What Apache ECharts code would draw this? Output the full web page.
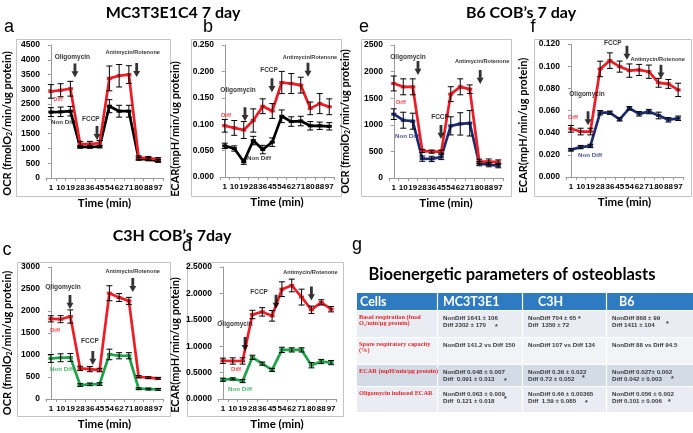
<!DOCTYPE html>
<html>
<head>
<meta charset="utf-8">
<script src="https://cdn.jsdelivr.net/npm/echarts@6.0.0/dist/echarts.min.js"></script>
<style>
html,body{margin:0;padding:0;background:#ffffff;}
#chart{width:693px;height:433px;}
</style>
</head>
<body>
<div id="chart"></div>
<script>
// ------------------------------------------------------------------ data
const timeLabels = ['1','10','19','28','36','45','54','62','71','80','88','97'];

// (a) MC3T3E1C4 OCR
const mcOcrDiff      = [2930, 2970, 3020, 1150, 1150, 1180, 3370, 3460, 3500, 690, 670, 630];
const mcOcrDiffErr   = [230, 220, 250, 90, 90, 90, 420, 380, 300, 60, 60, 60];
const mcOcrNon       = [2230, 2240, 2260, 1050, 1050, 1060, 2430, 2260, 2260, 650, 630, 580];
const mcOcrNonErr    = [150, 160, 160, 40, 40, 40, 220, 200, 200, 50, 50, 50];
// (b) MC3T3E1C4 ECAR
const mcEcarDiff     = [0.097, 0.093, 0.089, 0.107, 0.134, 0.125, 0.179, 0.177, 0.174, 0.130, 0.139, 0.133];
const mcEcarDiffErr  = [0.012, 0.014, 0.016, 0.022, 0.014, 0.014, 0.021, 0.019, 0.015, 0.012, 0.019, 0.015];
const mcEcarNon      = [0.059, 0.054, 0.029, 0.069, 0.052, 0.066, 0.115, 0.105, 0.106, 0.097, 0.097, 0.096];
const mcEcarNonErr   = [0.005, 0.005, 0.005, 0.008, 0.008, 0.008, 0.012, 0.009, 0.009, 0.008, 0.007, 0.007];
// (e) B6 OCR
const b6OcrDiff      = [1777, 1714, 1714, 509, 496, 496, 1576, 1714, 1670, 314, 308, 300];
const b6OcrDiffErr   = [140, 150, 150, 30, 30, 30, 140, 150, 80, 40, 50, 40];
const b6OcrNon       = [1200, 1086, 1068, 364, 358, 396, 980, 1017, 1030, 270, 251, 232];
const b6OcrNonErr    = [100, 150, 150, 50, 50, 50, 170, 210, 240, 40, 40, 40];
// (f) B6 ECAR
const b6EcarDiff     = [0.0435, 0.041, 0.041, 0.0975, 0.105, 0.0996, 0.096, 0.0966, 0.095, 0.085, 0.084, 0.0786];
const b6EcarDiffErr  = [0.003, 0.003, 0.003, 0.007, 0.007, 0.005, 0.006, 0.005, 0.006, 0.004, 0.004, 0.006];
const b6EcarNon      = [0.0246, 0.027, 0.028, 0.058, 0.058, 0.052, 0.062, 0.057, 0.059, 0.0555, 0.0516, 0.053];
const b6EcarNonErr   = [0.0012, 0.0015, 0.0015, 0.002, 0.0015, 0.0015, 0.0015, 0.002, 0.002, 0.003, 0.002, 0.002];
// (c) C3H OCR
const c3hOcrDiff     = [1822, 1814, 1875, 695, 680, 658, 2404, 2306, 2230, 506, 484, 469];
const c3hOcrDiffErr  = [70, 80, 150, 50, 60, 40, 170, 90, 80, 25, 20, 20];
const c3hOcrNon      = [922, 937, 945, 317, 333, 340, 1013, 983, 983, 234, 227, 219];
const c3hOcrNonErr   = [90, 90, 90, 30, 30, 30, 120, 70, 70, 20, 20, 20];
// (d) C3H ECAR
const c3hEcarDiff    = [0.724, 0.72, 0.72, 1.60, 1.65, 1.575, 2.08, 2.15, 1.93, 1.69, 1.83, 1.70];
const c3hEcarDiffErr = [0.05, 0.06, 0.06, 0.08, 0.08, 0.10, 0.14, 0.12, 0.15, 0.07, 0.05, 0.05];
const c3hEcarNon     = [0.365, 0.38, 0.34, 0.79, 0.67, 0.55, 0.93, 0.93, 0.93, 0.64, 0.71, 0.69];
const c3hEcarNonErr  = [0.03, 0.02, 0.03, 0.04, 0.03, 0.03, 0.05, 0.04, 0.04, 0.05, 0.04, 0.04];

// table (g)
const tableTitle = 'Bioenergetic parameters of osteoblasts';
const tableHead  = ['Cells', 'MC3T3E1', 'C3H', 'B6'];
const rowLabels  = [
  ['Basal respiration (fmol', 'O\u2082/min/\u00b5g protein)'],
  ['Spare respiratory capacity', '(%)'],
  ['ECAR (mpH/min/\u00b5g protein)'],
  ['Oligomycin induced ECAR']
];
const cellTexts = [
  [['NonDiff 1641 \u00b1 106', 'Diff 2302 \u00b1 170'], ['NonDiff 704 \u00b1 65', 'Diff  1350 \u00b1 72'], ['NonDiff 868 \u00b1 99', 'Diff 1411 \u00b1 104']],
  [['NonDiff 141.2 vs Diff 150'], ['NonDiff 107 vs Diff 134'], ['NonDiff 88 vs Diff 94.5']],
  [['NonDiff 0.048 \u00b1 0.007', 'Diff  0.091 \u00b1 0.013'], ['NonDiff 0.36 \u00b1 0.022', 'Diff 0.72 \u00b1 0.052'], ['NonDiff 0.027\u00b1 0.002', 'Diff 0.042 \u00b1 0.003']],
  [['NonDiff 0.063 \u00b1 0.009', 'Diff  0.121 \u00b1 0.018'], ['NonDiff 0.66 \u00b1 0.00365', 'Diff  1.59 \u00b1 0.085'], ['NonDiff 0.056 \u00b1 0.002', 'Diff 0.101 \u00b1 0.006']]
];
const cellStars = [[true, true, true], [false, false, false], [true, true, true], [true, true, true]];

// ------------------------------------------------------------------ layout / style
const RED = '#ee1c25', BLACK = '#000000', NAVY = '#1c2a70', GREEN = '#1fa24a';
const BOLD_SANS = "'Liberation Sans', Arial, sans-serif";
const CAL = "Lato, 'Open Sans', sans-serif";

const panels = [
  { letter:'a', letterPos:[9,27], box:[16,39,154,157], grid:{left:46, top:45, width:117, height:133},
    yMax:4500, yInt:500, dec:0, kind:'OCR', nameGap:33, nameShift:24,
    diff:mcOcrDiff, diffErr:mcOcrDiffErr, non:mcOcrNon, nonErr:mcOcrNonErr, nonColor:BLACK,
    notes:[['Oligomycin',2.2,4100,6.5,BLACK],['FCCP',4.1,1990,6.5,BLACK],['Antimycin/Rotenone',8.4,4260,5.6,BLACK],
           ['Diff',0.75,2670,5.5,RED],['Non Diff',1.25,1890,6.2,BLACK]],
    arrows:[[2.47,3640],[4.73,1520],[8.8,3650]] },
  { letter:'b', letterPos:[208,27], box:[191,39,150,157], grid:{left:220, top:45, width:114, height:132},
    yMax:0.25, yInt:0.05, dec:3, kind:'ECAR', nameGap:39, nameShift:36,
    diff:mcEcarDiff, diffErr:mcEcarDiffErr, non:mcEcarNon, nonErr:mcEcarNonErr, nonColor:BLACK,
    notes:[['Oligomycin',1.4,0.165,6.5,BLACK],['FCCP',4.66,0.203,6.5,BLACK],['Antimycin/Rotenone',8.97,0.227,5.6,BLACK],
           ['Diff',0.13,0.116,6,RED],['Non Diff',3.6,0.036,6.2,BLACK]],
    arrows:[[2.13,0.119],[4.97,0.174],[8.76,0.203]] },
  { letter:'e', letterPos:[364,27], box:[361,39,150,157], grid:{left:389, top:45, width:114, height:133},
    yMax:2500, yInt:500, dec:0, kind:'OCR', nameGap:38, nameShift:20,
    diff:b6OcrDiff, diffErr:b6OcrDiffErr, non:b6OcrNon, nonErr:b6OcrNonErr, nonColor:NAVY,
    notes:[['Oligomycin',1.5,2275,6.5,BLACK],['FCCP',4.87,1147,6.5,BLACK],['Antimycin/Rotenone',9.3,2200,5.6,BLACK],
           ['Diff',0.76,1430,6,RED],['Non Diff',1.4,790,6.2,NAVY]],
    arrows:[[2.55,2068],[4.97,865],[9.1,1900]] },
  { letter:'f', letterPos:[533,27], box:[534,39,157,157], grid:{left:566, top:44, width:117, height:133},
    yMax:0.12, yInt:0.02, dec:3, kind:'ECAR', nameGap:37, nameShift:30,
    diff:b6EcarDiff, diffErr:b6EcarDiffErr, non:b6EcarNon, nonErr:b6EcarNonErr, nonColor:NAVY,
    notes:[['FCCP',4.3,0.121,6.5,BLACK],['Antimycin/Rotenone',8.9,0.106,5.6,BLACK],['Oligomycin',1.65,0.075,6.5,BLACK],
           ['Diff',0.22,0.054,6,RED],['Non Diff',1.96,0.020,6.2,NAVY]],
    arrows:[[5.75,0.112],[9.24,0.095],[1.76,0.053]] },
  { letter:'c', letterPos:[7,250], box:[17,262,153,154], grid:{left:46, top:267, width:117, height:132},
    yMax:3000, yInt:500, dec:0, kind:'OCR', nameGap:33, nameShift:20,
    diff:c3hOcrDiff, diffErr:c3hOcrDiffErr, non:c3hOcrNon, nonErr:c3hOcrNonErr, nonColor:GREEN,
    notes:[['Oligomycin',1.24,2545,6.5,BLACK],['FCCP',4.0,1318,6.5,BLACK],['Antimycin/Rotenone',8.4,2909,5.6,BLACK],
           ['Diff',0.42,1568,6,RED],['Non Diff',1.14,682,6.2,GREEN]],
    arrows:[[1.96,2205],[4.3,932],[8.4,2590]] },
  { letter:'d', letterPos:[187,246], box:[187,262,156,154], grid:{left:218, top:267, width:118, height:132},
    yMax:2.5, yInt:0.5, dec:4, kind:'ECAR', nameGap:37, nameShift:24,
    diff:c3hEcarDiff, diffErr:c3hEcarDiffErr, non:c3hEcarNon, nonErr:c3hEcarNonErr, nonColor:GREEN,
    notes:[['Oligomycin',1.23,1.42,6.5,BLACK],['FCCP',3.68,2.03,6.5,BLACK],['Antimycin/Rotenone',8.9,2.39,5.6,BLACK],
           ['Diff',1.34,0.57,6,RED],['Non Diff',1.74,0.19,6.2,GREEN]],
    arrows:[[2.25,1.04],[5.4,1.84],[9.0,2.0]] }
];

const titles = [
  ['MC3T3E1C4 7 day', 173, 13],
  ['B6 COB\u2019s 7 day', 521, 13],
  ['C3H COB\u2019s 7day', 172, 236]
];

// star placement in the table: [dx from column left, y]
const starPos = [
  [[58,327],[56,319],[60,324]],
  [null,null,null],
  [[67,381],[60,378.5],[65,379]],
  [[67,399],[63,403],[62,402]]
];

const ARROW = 'path://M3,0H7V9H10L5,16L0,9H3Z';

function errItem(params, api) {
  const x = api.value(0);
  const lo = api.coord([x, api.value(1)]);
  const hi = api.coord([x, api.value(2)]);
  const cap = 3;
  const mk = (x1, y1, x2, y2) => ({type:'line', shape:{x1, y1, x2, y2}, style:{stroke:'#000', lineWidth:1}});
  return {type:'group', children:[
    mk(lo[0], lo[1], hi[0], hi[1]),
    mk(lo[0]-cap, lo[1], lo[0]+cap, lo[1]),
    mk(hi[0]-cap, hi[1], hi[0]+cap, hi[1])
  ]};
}

const option = {animation:false, backgroundColor:'#ffffff', grid:[], xAxis:[], yAxis:[], series:[], graphic:[]};

panels.forEach((p, i) => {
  option.grid.push(Object.assign({show:false}, p.grid));
  option.xAxis.push({
    type:'category', gridIndex:i, data:timeLabels, boundaryGap:true,
    axisLine:{lineStyle:{color:'#9a9a9a', width:1}},
    axisTick:{show:true, length:3, lineStyle:{color:'#9a9a9a'}},
    axisLabel:{interval:0, hideOverlap:false, fontSize:8, fontWeight:'bold', fontFamily:BOLD_SANS, color:'#000', margin:6},
    splitLine:{show:false},
    name:'Time (min)', nameLocation:'middle', nameGap:19,
    nameTextStyle:{fontFamily:CAL, fontWeight:'bold', fontSize:11.5, color:'#000'}
  });
  option.xAxis.push({type:'value', gridIndex:i, min:-0.5, max:11.5, show:false});
  const nameText = p.kind === 'OCR'
    ? '{t|OCR (fmolO}{s|2}{t|/min/ug protein)}'
    : '{t|ECAR(mpH/min/ug protein)}';
  option.yAxis.push({
    type:'value', gridIndex:i, min:0, max:p.yMax, interval:p.yInt,
    axisLine:{show:true, lineStyle:{color:'#9a9a9a', width:1}},
    axisTick:{show:true, length:3, lineStyle:{color:'#9a9a9a'}},
    splitLine:{show:false},
    axisLabel:{fontSize:8.5, fontWeight:'bold', fontFamily:BOLD_SANS, color:'#000', margin:6,
      formatter:(v) => v.toFixed(p.dec)},
    name:nameText, nameLocation:'middle', nameGap:p.nameGap, nameRotate:90,
    nameTextStyle:{padding:[0, p.nameShift, 0, 0],
      rich:{t:{fontFamily:CAL, fontWeight:'bold', fontSize:11, color:'#000'},
            s:{fontFamily:CAL, fontWeight:'bold', fontSize:7, color:'#000', verticalAlign:'bottom', padding:[5,0,0,0]}}}
  });
  const xi = 2*i, vxi = 2*i+1;
  const lineSeries = (vals, color) => ({
    type:'line', xAxisIndex:xi, yAxisIndex:i, data:vals, z:3,
    symbol:'rect', symbolSize:[5,3], showSymbol:true,
    lineStyle:{color, width:2.7}, itemStyle:{color}
  });
  const errSeries = (vals, errs) => ({
    type:'custom', xAxisIndex:xi, yAxisIndex:i, z:4,
    renderItem:errItem, encode:{x:0, y:[1,2]},
    data:vals.map((v, k) => [k, v - errs[k], v + errs[k]])
  });
  option.series.push(lineSeries(p.non, p.nonColor));
  option.series.push(lineSeries(p.diff, RED));
  option.series.push(errSeries(p.non, p.nonErr));
  option.series.push(errSeries(p.diff, p.diffErr));
  option.series.push({
    type:'scatter', xAxisIndex:vxi, yAxisIndex:i, clip:false, z:5, silent:true,
    symbol:'circle', symbolSize:1, itemStyle:{color:'rgba(0,0,0,0)'},
    data:p.notes.map(n => ({value:[n[1], n[2]],
      label:{show:true, position:'inside', formatter:n[0], fontSize:n[3], fontWeight:'bold',
             fontFamily:BOLD_SANS, color:n[4]}}))
  });
  option.series.push({
    type:'scatter', xAxisIndex:vxi, yAxisIndex:i, clip:false, z:5, silent:true,
    symbol:ARROW, symbolSize:[7,14], itemStyle:{color:'#000'},
    data:p.arrows.map(a => [a[0], a[1]])
  });
  // panel frame and letter
  option.graphic.push({type:'rect', silent:true, z:-1,
    shape:{x:p.box[0]+0.5, y:p.box[1]+0.5, width:p.box[2], height:p.box[3]},
    style:{fill:null, stroke:'#c4c4c4', lineWidth:1}});
  option.graphic.push({type:'text', silent:true, x:p.letterPos[0], y:p.letterPos[1],
    style:{text:p.letter, fill:'#000', font:"18px 'Liberation Sans', Arial, sans-serif", textAlign:'center', textVerticalAlign:'middle'}});
});

titles.forEach(t => option.graphic.push({type:'text', silent:true, x:t[1], y:t[2],
  style:{text:t[0], fill:'#000', font:"bold 16px " + CAL, textAlign:'center', textVerticalAlign:'middle'}}));

// ---- table (g)
option.graphic.push({type:'text', silent:true, x:357, y:245,
  style:{text:'g', fill:'#000', font:"18px 'Liberation Sans', Arial, sans-serif", textAlign:'center', textVerticalAlign:'middle'}});
option.graphic.push({type:'text', silent:true, x:512, y:275,
  style:{text:tableTitle, fill:'#000', font:"bold 16.5px " + CAL, textAlign:'center', textVerticalAlign:'middle'}});

const colX = [357, 437, 522, 606, 693];
const rowY = [293, 310, 337, 364, 386, 412];
const rowFill = ['#e9edf3', '#f1f3f7', '#d3dbe7', '#e9edf3'];
option.graphic.push({type:'rect', silent:true, shape:{x:colX[0], y:rowY[0], width:colX[4]-colX[0], height:rowY[1]-rowY[0]},
  style:{fill:'#2f7bc2'}});
for (let r = 0; r < 4; r++) {
  option.graphic.push({type:'rect', silent:true, shape:{x:colX[0], y:rowY[r+1], width:colX[4]-colX[0], height:rowY[r+2]-rowY[r+1]},
    style:{fill:rowFill[r]}});
}
for (let c = 1; c < 4; c++) {
  option.graphic.push({type:'line', silent:true, z:2, shape:{x1:colX[c]+0.5, y1:rowY[0], x2:colX[c]+0.5, y2:rowY[5]},
    style:{stroke:'#ffffff', lineWidth:1.2}});
}
for (let r = 1; r < 5; r++) {
  option.graphic.push({type:'line', silent:true, z:2, shape:{x1:colX[0], y1:rowY[r]+0.5, x2:colX[4], y2:rowY[r]+0.5},
    style:{stroke:'#ffffff', lineWidth:1.2}});
}
const headOff = [3, 6, 16, 13];
tableHead.forEach((h, c) => option.graphic.push({type:'text', silent:true, z:3, x:colX[c]+headOff[c], y:(rowY[0]+rowY[1])/2,
  style:{text:h, fill:'#ffffff', font:"bold 12.5px " + CAL, textAlign:'left', textVerticalAlign:'middle'}}));

for (let r = 0; r < 4; r++) {
  const top = rowY[r+1];
  const lbl = rowLabels[r];
  lbl.forEach((s, k) => option.graphic.push({type:'text', silent:true, z:3, x:colX[0]+2, y:top + 7 + k*6.5,
    style:{text:s, fill:'#e0262a', font:"bold 6.3px 'Liberation Serif', 'Times New Roman', serif", textAlign:'left', textVerticalAlign:'middle'}}));
  for (let c = 0; c < 3; c++) {
    const lines = cellTexts[r][c];
    lines.forEach((s, k) => option.graphic.push({type:'text', silent:true, z:3, x:colX[c+1]+6, y:top + 8 + k*7.5,
      style:{text:s, fill:'#3a3a3a', font:"bold 6.2px " + BOLD_SANS, textAlign:'left', textVerticalAlign:'middle'}}));
    if (cellStars[r][c]) {
      const sp = starPos[r][c];
      option.graphic.push({type:'text', silent:true, z:3, x:colX[c+1]+sp[0], y:sp[1],
        style:{text:'*', fill:'#3a3a3a', font:"bold 7px " + BOLD_SANS, textAlign:'left', textVerticalAlign:'middle'}});
    }
  }
}

const chart = echarts.init(document.getElementById('chart'), null, {renderer:'canvas'});
chart.setOption(option);
</script>
</body>
</html>
